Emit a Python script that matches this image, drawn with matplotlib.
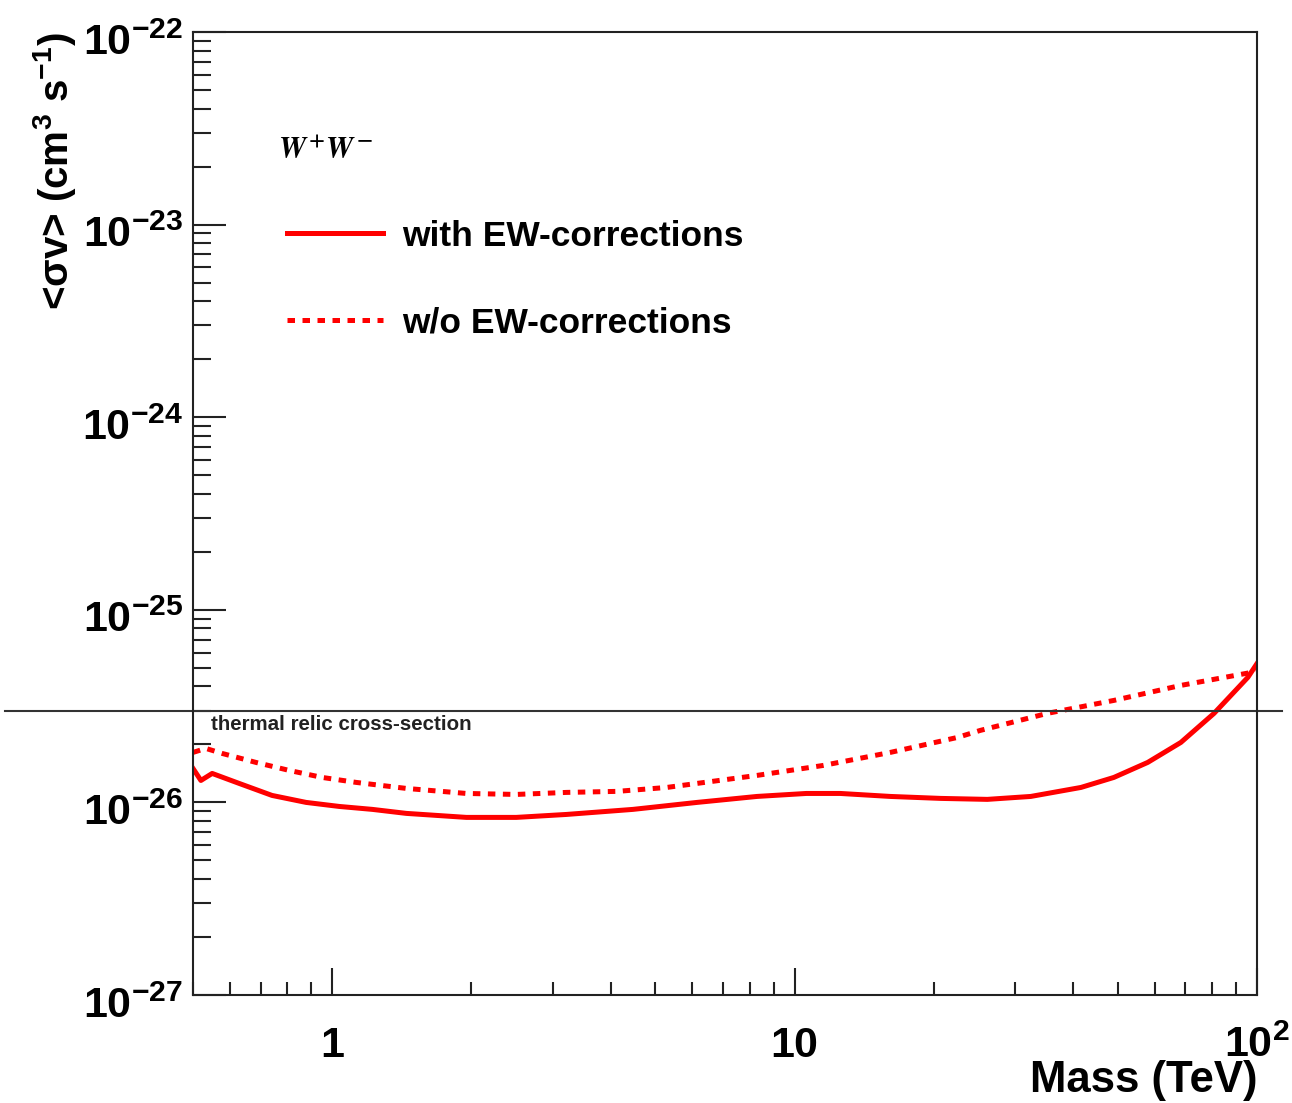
import numpy as np
import matplotlib
matplotlib.use('Agg')
import matplotlib.pyplot as plt
import matplotlib.transforms as mtransforms
from matplotlib.ticker import (LogLocator, FixedLocator, FixedFormatter, NullFormatter,
                               LogFormatterSciNotation)

plt.rcParams['font.family'] = ['Liberation Sans', 'DejaVu Sans']
plt.rcParams['font.weight'] = 'bold'

# with EW-corrections (solid)
mass_ew = [0.5, 0.52, 0.55, 0.629, 0.741, 0.878, 1.035, 1.221, 1.446, 1.95, 2.50, 3.21,
           4.47, 6.15, 8.29, 10.6, 12.55, 16.1, 20.7, 26.1, 32.4, 41.6, 49.0, 58.0,
           68.4, 80.7, 95.5, 100.0]
sv_ew = [1.50e-26, 1.30e-26, 1.414e-26, 1.255e-26, 1.087e-26, 1.00e-26, 0.953e-26,
         0.920e-26, 0.877e-26, 0.836e-26, 0.836e-26, 0.866e-26, 0.920e-26, 1.00e-26,
         1.074e-26, 1.113e-26, 1.113e-26, 1.074e-26, 1.049e-26, 1.037e-26, 1.074e-26,
         1.196e-26, 1.348e-26, 1.613e-26, 2.048e-26, 2.90e-26, 4.46e-26, 5.27e-26]

# w/o EW-corrections (dotted)
mass_noew = [0.5, 0.533, 0.578, 0.684, 0.807, 0.951, 1.127, 1.446, 1.95, 2.50, 3.21,
             4.13, 5.29, 6.15, 8.29, 11.53, 16.1, 22.5, 25.2, 35.2, 49.0, 68.4, 100.0]
sv_noew = [1.818e-26, 1.907e-26, 1.796e-26, 1.613e-26, 1.466e-26, 1.348e-26, 1.270e-26,
           1.182e-26, 1.113e-26, 1.100e-26, 1.127e-26, 1.141e-26, 1.196e-26, 1.255e-26,
           1.381e-26, 1.556e-26, 1.818e-26, 2.175e-26, 2.365e-26, 2.90e-26, 3.385e-26,
           4.05e-26, 4.79e-26]

thermal_relic = 3e-26
y_major = [1e-27, 1e-26, 1e-25, 1e-24, 1e-23, 1e-22]

fig = plt.figure(figsize=(12.92, 11.03), dpi=100)
ax = fig.add_axes([0.1494, 0.0979, 0.8236, 0.8731])

ax.plot(mass_ew, sv_ew, color='#ff0000', lw=3.6, solid_joinstyle='round',
        label='with EW-corrections')
ax.plot(mass_noew, sv_noew, color='#ff0000', lw=3.6, linestyle=(0, (1.5, 1.5)),
        dash_capstyle='butt', label='w/o EW-corrections')

ax.axhline(thermal_relic, xmin=-0.177, xmax=1.0235, color='#333333', lw=1.5, clip_on=False)
ax.text(0.547, thermal_relic * 0.95, 'thermal relic cross-section', fontsize=14.8,
        fontweight='bold', color='#222222', va='top', ha='left')

ax.set_xscale('log')
ax.set_yscale('log')
ax.set_xlim(0.5, 100)
ax.set_ylim(1e-27, 1e-22)

ax.xaxis.set_major_locator(FixedLocator([1, 10, 100]))
ax.xaxis.set_major_formatter(FixedFormatter(['1', '10', r'$\mathdefault{10^{2}}$']))
ax.xaxis.set_minor_locator(LogLocator(base=10, subs=np.arange(2, 10)))
ax.xaxis.set_minor_formatter(NullFormatter())
ax.yaxis.set_major_locator(FixedLocator(y_major))
ax.yaxis.set_major_formatter(LogFormatterSciNotation())
ax.yaxis.set_minor_locator(LogLocator(base=10, subs=np.arange(2, 10), numticks=20))
ax.yaxis.set_minor_formatter(NullFormatter())

ax.tick_params(axis='both', which='both', direction='in', top=False, right=False,
               labelsize=31, width=1.5, color='#222222')
ax.tick_params(axis='y', which='major', length=24, pad=7)
ax.tick_params(axis='y', which='minor', length=13)
ax.tick_params(axis='x', which='major', length=19.5, pad=22)
ax.tick_params(axis='x', which='minor', length=9.5)
shift = mtransforms.ScaledTranslation(0, -5 / 72, fig.dpi_scale_trans)
for lab in ax.get_yticklabels():
    lab.set_transform(lab.get_transform() + shift)
for lab in ax.get_xticklabels() + ax.get_yticklabels():
    lab.set_fontweight('bold')
for sp in ax.spines.values():
    sp.set_linewidth(1.5)
    sp.set_color('#222222')

ax.set_xlabel('Mass (TeV)', fontsize=31.5, fontweight='bold', loc='right', labelpad=-4)
ax.set_ylabel(r'<σv> (cm$^{\mathdefault{3}}$ s$^{\mathdefault{-1}}$)', fontsize=29,
              fontweight='bold', loc='top', labelpad=3)

ax.text(0.080, 0.877, r'$W^{+}W^{-}$', transform=ax.transAxes, fontsize=22,
        fontweight='normal', math_fontfamily='stix', ha='left', va='center')

leg = ax.legend(loc='upper left', bbox_to_anchor=(0.0883, 0.805), frameon=False,
                fontsize=25.5, handlelength=2.7, handletextpad=0.56, labelspacing=1.52,
                borderpad=0, borderaxespad=0)
for t in leg.get_texts():
    t.set_fontweight('bold')

fig.savefig('out.png', dpi=100)
